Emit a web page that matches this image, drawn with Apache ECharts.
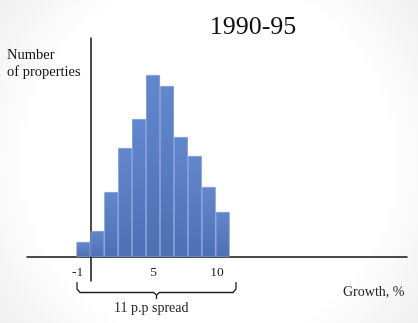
<!DOCTYPE html>
<html>
<head>
<meta charset="utf-8">
<script src="https://cdn.jsdelivr.net/npm/echarts@6/dist/echarts.min.js"></script>
<style>
html,body{margin:0;padding:0;background:#fff;}
#chart{width:418px;height:323px;}
</style>
</head>
<body>
<div id="chart"></div>
<script>
// Growth bins (centre of each bin, % growth) and number of properties per bin
var binCenters = [-0.55, 0.55, 1.65, 2.75, 3.85, 4.95, 6.05, 7.15, 8.25, 9.35, 10.45];
var counts = [15, 26, 65, 109, 138, 182, 171, 120, 101, 70, 45];
var xTickValues = [-1, 5, 10];
var titleText = '1990-95';
var yAxisName = 'Number\nof properties';
var xAxisName = 'Growth, %';
var spreadText = '11 p.p spread';

var chart = echarts.init(document.getElementById('chart'), null, {renderer: 'canvas'});
var serif = '"Liberation Serif", "DejaVu Serif", serif';
var data = binCenters.map(function (x, i) { return [x, counts[i]]; });

chart.setOption({
  backgroundColor: {
    type: 'radial', x: 0.5, y: 0.5, r: 0.8,
    colorStops: [{offset: 0, color: '#ffffff'}, {offset: 0.7, color: '#ffffff'}, {offset: 1, color: '#f1f1f1'}]
  },
  animation: false,
  title: {
    text: titleText, left: 248, top: 9, textAlign: 'center',
    textStyle: {fontFamily: serif, fontSize: 26, fontWeight: 'normal', color: '#111'}
  },
  grid: {left: 27, width: 380, top: 38, height: 243, containLabel: false},
  xAxis: {
    type: 'value', min: -5, max: 25,
    axisLine: {onZero: true, lineStyle: {color: '#111', width: 1.5}},
    axisTick: {show: false},
    splitLine: {show: false},
    axisLabel: {customValues: xTickValues, margin: -16, fontFamily: serif, fontSize: 13.5, color: '#222'}
  },
  yAxis: {
    type: 'value', min: -24, max: 219,
    axisLine: {show: true, onZero: true, lineStyle: {color: '#111', width: 1.5}},
    axisTick: {show: false},
    splitLine: {show: false},
    axisLabel: {show: false}
  },
  series: [{
    type: 'bar',
    data: data,
    barWidth: 13.9,
    itemStyle: {
      color: {type: 'linear', x: 0, y: 0, x2: 0, y2: 1,
        colorStops: [{offset: 0, color: '#6387cd'}, {offset: 1, color: '#4d6fb4'}]},
      borderColor: '#7896d3', borderWidth: 0.8
    },
    z: 1
  }],
  graphic: [
    {type: 'text', left: 7, top: 47, style: {text: yAxisName, font: '14.5px ' + serif, fill: '#111', lineHeight: 17}},
    {type: 'text', left: 343, top: 285, style: {text: xAxisName, font: '14px ' + serif, fill: '#222'}},
    {type: 'text', left: 114, top: 301, style: {text: spreadText, font: '14px ' + serif, fill: '#222'}},
    {type: 'polyline', shape: {points: [[77, 282], [77, 289], [80, 292.5], [153.5, 292.5], [156.5, 295], [156.5, 299]]},
      style: {stroke: '#222', lineWidth: 1.3, fill: null}},
    {type: 'polyline', shape: {points: [[236, 282], [236, 289], [233, 292.5], [159.5, 292.5], [156.5, 295]]},
      style: {stroke: '#222', lineWidth: 1.3, fill: null}}
  ]
});
</script>
</body>
</html>
